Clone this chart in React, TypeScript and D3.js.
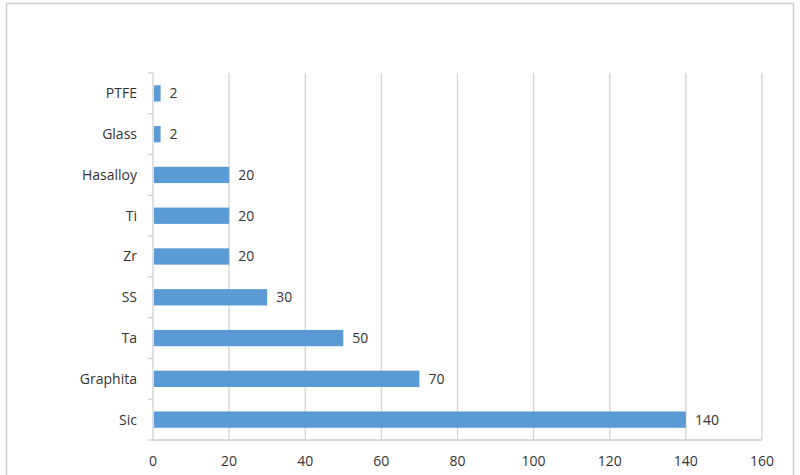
import React from "react";
import * as d3 from "d3";

const categories = ["PTFE", "Glass", "Hasalloy", "Ti", "Zr", "SS", "Ta", "Graphita", "Sic"];
const values = [2, 2, 20, 20, 20, 30, 50, 70, 140];
const xTicks = [0, 20, 40, 60, 80, 100, 120, 140, 160];

export default function App() {
  const W = 800, H = 475;
  const left = 153, right = 762, top = 73, bottom = 440;
  const x = d3.scaleLinear().domain([0, 160]).range([left, right]);
  const y = d3.scaleBand().domain(categories).range([top, bottom]).paddingInner(0.6).paddingOuter(0.3);
  const yb = d3.scaleBand().domain(categories).range([top, bottom]);
  const font = "'Open Sans', 'Liberation Sans', sans-serif";
  const txt = "#333";
  return (
    <div style={{ position: "absolute", left: 0, top: 0 }}>
      <svg width={W} height={H} style={{ display: "block", background: "#fff" }}>
        <rect x={6.5} y={3.5} width={787} height={480} fill="none" stroke="#cfcfcf" strokeWidth={1.5} />
        {xTicks.slice(1).map((t) => (
          <line key={t} x1={x(t)} x2={x(t)} y1={top} y2={bottom} stroke="#d4d4d4" strokeWidth={1.3} />
        ))}
        <line x1={left} x2={right} y1={bottom} y2={bottom} stroke="#cfcfcf" strokeWidth={1.3} />
        <line x1={left} x2={left} y1={top} y2={bottom} stroke="#cfcfcf" strokeWidth={1.3} />
        {categories.map((c) => (
          <line key={"t" + c} x1={left - 5} x2={left} y1={yb(c)!} y2={yb(c)!} stroke="#cfcfcf" strokeWidth={1.3} />
        ))}
        <line x1={left - 5} x2={left} y1={bottom} y2={bottom} stroke="#cfcfcf" strokeWidth={1.3} />
        {categories.map((c, i) => (
          <g key={c}>
            <rect x={x(0) + 1} y={y(c)!} width={x(values[i]) - x(0) - 1} height={y.bandwidth()} fill="#5b9bd5" />
            <text x={x(values[i]) + 9} y={y(c)! + y.bandwidth() / 2} dy="0.35em" fontFamily={font} fontSize={14} fill={txt}>
              {values[i]}
            </text>
            <text x={137} y={y(c)! + y.bandwidth() / 2} dy="0.35em" textAnchor="end" fontFamily={font} fontSize={14} fill={txt}>
              {c}
            </text>
          </g>
        ))}
        {xTicks.map((t) => (
          <text key={"l" + t} x={x(t)} y={461} dy="0.35em" textAnchor="middle" fontFamily={font} fontSize={14} fill={txt}>
            {t}
          </text>
        ))}
      </svg>
    </div>
  );
}
